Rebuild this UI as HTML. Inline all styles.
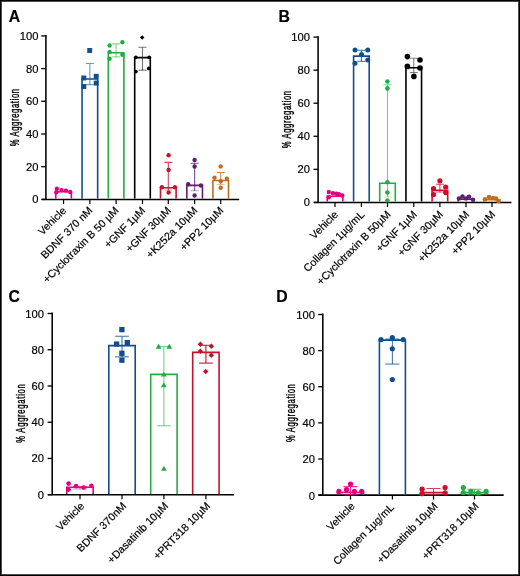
<!DOCTYPE html>
<html><head><meta charset="utf-8"><style>
html,body{margin:0;padding:0;background:#fff;}
svg{display:block;will-change:transform;}
text{font-family:"Liberation Sans", sans-serif;fill:#000;stroke:#000;stroke-width:0.18px;}
</style></head><body>
<svg width="520" height="576" viewBox="0 0 520 576">
<rect x="0" y="0" width="520" height="576" fill="#fff"/>
<path d="M45.90 35.00V199.40" stroke="#000" stroke-width="1.55" fill="none"/>
<path d="M41.80 199.40H239.20" stroke="#000" stroke-width="1.55" fill="none"/>
<path d="M55.75 198.62V191.80H71.35V198.62" fill="none" stroke="#e4007f" stroke-width="1.6"/>
<circle cx="56.90" cy="188.70" r="2.20" fill="#e4007f"/>
<circle cx="61.50" cy="190.10" r="2.20" fill="#e4007f"/>
<circle cx="65.90" cy="190.60" r="2.20" fill="#e4007f"/>
<circle cx="70.20" cy="192.00" r="2.20" fill="#e4007f"/>
<circle cx="56.30" cy="192.20" r="2.20" fill="#e4007f"/>
<path d="M82.05 198.62V79.00H97.65V198.62" fill="none" stroke="#114f8c" stroke-width="1.6"/>
<path d="M89.85 63.50V84.60M85.85 63.50H93.85" fill="none" stroke="#114f8c" stroke-opacity="0.6" stroke-width="1.1"/>
<path d="M85.85 84.60H93.85" fill="none" stroke="#114f8c" stroke-opacity="0.60" stroke-width="1.1"/>
<rect x="87.23" y="48.03" width="4.94" height="4.94" fill="#114f8c"/>
<rect x="81.33" y="75.53" width="4.94" height="4.94" fill="#114f8c"/>
<rect x="93.73" y="73.83" width="4.94" height="4.94" fill="#114f8c"/>
<rect x="93.73" y="80.63" width="4.94" height="4.94" fill="#114f8c"/>
<rect x="81.33" y="84.03" width="4.94" height="4.94" fill="#114f8c"/>
<path d="M108.30 198.62V52.75H123.90V198.62" fill="none" stroke="#25ab44" stroke-width="1.6"/>
<path d="M116.10 43.90V56.90M112.10 43.90H120.10" fill="none" stroke="#25ab44" stroke-opacity="0.55" stroke-width="1.1"/>
<path d="M112.10 56.90H120.10" fill="none" stroke="#25ab44" stroke-opacity="0.55" stroke-width="1.1"/>
<circle cx="109.60" cy="45.50" r="2.20" fill="#25ab44"/>
<circle cx="122.40" cy="42.30" r="2.20" fill="#25ab44"/>
<circle cx="109.60" cy="51.90" r="2.20" fill="#25ab44"/>
<circle cx="122.40" cy="54.70" r="2.20" fill="#25ab44"/>
<circle cx="109.60" cy="58.80" r="2.20" fill="#25ab44"/>
<path d="M134.70 198.62V57.60H150.30V198.62" fill="none" stroke="#000000" stroke-width="1.6"/>
<path d="M142.50 47.20V70.20M138.50 47.20H146.50" fill="none" stroke="#000000" stroke-opacity="0.55" stroke-width="1.1"/>
<path d="M138.50 70.20H146.50" fill="none" stroke="#000000" stroke-opacity="0.55" stroke-width="1.1"/>
<path d="M142.20 35.35L144.45 37.60L142.20 39.85L139.95 37.60Z" fill="#000000"/>
<circle cx="135.80" cy="57.30" r="1.90" fill="#000000"/>
<circle cx="149.20" cy="57.30" r="1.90" fill="#000000"/>
<circle cx="148.80" cy="68.40" r="1.90" fill="#000000"/>
<circle cx="135.90" cy="71.60" r="1.90" fill="#000000"/>
<path d="M160.50 198.62V187.70H176.10V198.62" fill="none" stroke="#c8102e" stroke-width="1.6"/>
<path d="M168.30 162.40V190.00M164.30 162.40H172.30" fill="none" stroke="#c8102e" stroke-opacity="0.8" stroke-width="1.1"/>
<path d="M164.30 190.00H172.30" fill="none" stroke="#c8102e" stroke-opacity="0.40" stroke-width="1.1"/>
<circle cx="168.60" cy="155.20" r="2.20" fill="#c8102e"/>
<circle cx="168.60" cy="169.90" r="2.20" fill="#c8102e"/>
<circle cx="161.90" cy="187.30" r="2.20" fill="#c8102e"/>
<circle cx="174.90" cy="187.30" r="2.20" fill="#c8102e"/>
<circle cx="168.60" cy="192.50" r="2.20" fill="#c8102e"/>
<path d="M186.85 198.62V185.40H202.45V198.62" fill="none" stroke="#5e1f73" stroke-width="1.6"/>
<path d="M194.65 163.20V190.70M190.65 163.20H198.65" fill="none" stroke="#5e1f73" stroke-opacity="0.8" stroke-width="1.1"/>
<path d="M190.65 190.70H198.65" fill="none" stroke="#5e1f73" stroke-opacity="0.40" stroke-width="1.1"/>
<circle cx="194.60" cy="160.00" r="2.20" fill="#5e1f73"/>
<circle cx="194.60" cy="166.50" r="2.20" fill="#5e1f73"/>
<circle cx="188.20" cy="184.30" r="2.20" fill="#5e1f73"/>
<circle cx="200.90" cy="185.50" r="2.20" fill="#5e1f73"/>
<circle cx="194.60" cy="195.50" r="2.20" fill="#5e1f73"/>
<path d="M212.90 198.62V180.50H228.50V198.62" fill="none" stroke="#c26d1e" stroke-width="1.6"/>
<path d="M220.70 172.50V184.50M216.70 172.50H224.70" fill="none" stroke="#c26d1e" stroke-opacity="0.8" stroke-width="1.1"/>
<path d="M216.70 184.50H224.70" fill="none" stroke="#c26d1e" stroke-opacity="0.40" stroke-width="1.1"/>
<circle cx="220.70" cy="166.40" r="2.20" fill="#c26d1e"/>
<circle cx="214.50" cy="177.70" r="2.20" fill="#c26d1e"/>
<circle cx="226.90" cy="178.80" r="2.20" fill="#c26d1e"/>
<circle cx="220.70" cy="181.20" r="2.20" fill="#c26d1e"/>
<circle cx="220.70" cy="187.80" r="2.20" fill="#c26d1e"/>
<path d="M41.30 199.40H45.90" stroke="#000" stroke-width="1.32"/>
<text x="38.40" y="203.40" text-anchor="end" font-size="11.2">0</text>
<path d="M41.30 166.70H45.90" stroke="#000" stroke-width="1.32"/>
<text x="38.40" y="170.70" text-anchor="end" font-size="11.2">20</text>
<path d="M41.30 134.00H45.90" stroke="#000" stroke-width="1.32"/>
<text x="38.40" y="138.00" text-anchor="end" font-size="11.2">40</text>
<path d="M41.30 101.30H45.90" stroke="#000" stroke-width="1.32"/>
<text x="38.40" y="105.30" text-anchor="end" font-size="11.2">60</text>
<path d="M41.30 68.60H45.90" stroke="#000" stroke-width="1.32"/>
<text x="38.40" y="72.60" text-anchor="end" font-size="11.2">80</text>
<path d="M41.30 35.90H45.90" stroke="#000" stroke-width="1.32"/>
<text x="38.40" y="39.90" text-anchor="end" font-size="11.2">100</text>
<path d="M63.55 199.40V203.90" stroke="#000" stroke-width="1.2"/>
<path d="M89.85 199.40V203.90" stroke="#000" stroke-width="1.2"/>
<path d="M116.10 199.40V203.90" stroke="#000" stroke-width="1.2"/>
<path d="M142.50 199.40V203.90" stroke="#000" stroke-width="1.2"/>
<path d="M168.30 199.40V203.90" stroke="#000" stroke-width="1.2"/>
<path d="M194.65 199.40V203.90" stroke="#000" stroke-width="1.2"/>
<path d="M220.70 199.40V203.90" stroke="#000" stroke-width="1.2"/>
<text transform="translate(66.85 211.30) rotate(-45)" text-anchor="end" font-size="10.7">Vehicle</text>
<text transform="translate(93.15 211.30) rotate(-45)" text-anchor="end" font-size="10.7">BDNF 370 nM</text>
<text transform="translate(119.40 211.30) rotate(-45)" text-anchor="end" font-size="10.7">+Cyclotraxin B 50 µM</text>
<text transform="translate(145.80 211.30) rotate(-45)" text-anchor="end" font-size="10.7">+GNF 1µM</text>
<text transform="translate(171.60 211.30) rotate(-45)" text-anchor="end" font-size="10.7">+GNF 30µM</text>
<text transform="translate(197.95 211.30) rotate(-45)" text-anchor="end" font-size="10.7">+K252a 10µM</text>
<text transform="translate(224.00 211.30) rotate(-45)" text-anchor="end" font-size="10.7">+PP2 10µM</text>
<text transform="translate(18.90 117.60) rotate(-90) scale(0.64 1)" text-anchor="middle" font-size="12" textLength="89.84" lengthAdjust="spacing" style="stroke-width:0.4px">% Aggregation</text>
<text x="8.7" y="22.3" font-size="15.8" font-weight="bold">A</text>
<path d="M318.10 36.20V202.40" stroke="#000" stroke-width="1.55" fill="none"/>
<path d="M314.10 202.40H511.50" stroke="#000" stroke-width="1.55" fill="none"/>
<path d="M327.20 201.62V196.30H342.80V201.62" fill="none" stroke="#e4007f" stroke-width="1.6"/>
<circle cx="328.80" cy="192.00" r="2.20" fill="#e4007f"/>
<circle cx="333.00" cy="193.30" r="2.20" fill="#e4007f"/>
<circle cx="336.50" cy="193.80" r="2.20" fill="#e4007f"/>
<circle cx="339.00" cy="194.30" r="2.20" fill="#e4007f"/>
<circle cx="342.30" cy="195.50" r="2.20" fill="#e4007f"/>
<circle cx="328.80" cy="197.30" r="2.20" fill="#e4007f"/>
<path d="M353.60 201.62V56.10H369.20V201.62" fill="none" stroke="#114f8c" stroke-width="1.6"/>
<path d="M361.40 50.20V61.30M357.40 50.20H365.40" fill="none" stroke="#114f8c" stroke-opacity="0.8" stroke-width="1.1"/>
<path d="M357.40 61.30H365.40" fill="none" stroke="#114f8c" stroke-opacity="0.80" stroke-width="1.1"/>
<circle cx="355.00" cy="50.00" r="2.50" fill="#114f8c"/>
<circle cx="367.75" cy="50.00" r="2.50" fill="#114f8c"/>
<circle cx="361.50" cy="54.50" r="2.50" fill="#114f8c"/>
<circle cx="367.75" cy="60.00" r="2.50" fill="#114f8c"/>
<circle cx="355.00" cy="63.25" r="2.50" fill="#114f8c"/>
<path d="M379.70 201.62V183.30H395.30V201.62" fill="none" stroke="#25ab44" stroke-width="1.6"/>
<path d="M387.50 84.75V196.90M383.50 84.75H391.50" fill="none" stroke="#25ab44" stroke-opacity="0.6" stroke-width="1.1"/>
<path d="M383.50 196.90H391.50" fill="none" stroke="#25ab44" stroke-opacity="0.30" stroke-width="1.1"/>
<circle cx="387.40" cy="81.50" r="2.30" fill="#25ab44"/>
<circle cx="387.40" cy="88.40" r="2.30" fill="#25ab44"/>
<circle cx="387.40" cy="182.20" r="2.30" fill="#25ab44"/>
<circle cx="387.40" cy="192.50" r="2.30" fill="#25ab44"/>
<circle cx="387.40" cy="200.60" r="2.30" fill="#25ab44"/>
<path d="M405.95 201.62V67.80H421.55V201.62" fill="none" stroke="#000000" stroke-width="1.6"/>
<path d="M413.75 58.30V72.50M409.75 58.30H417.75" fill="none" stroke="#000000" stroke-opacity="0.5" stroke-width="1.1"/>
<path d="M409.75 72.50H417.75" fill="none" stroke="#000000" stroke-opacity="0.50" stroke-width="1.1"/>
<circle cx="407.40" cy="56.60" r="2.80" fill="#000000"/>
<circle cx="420.00" cy="60.00" r="2.80" fill="#000000"/>
<circle cx="407.40" cy="66.40" r="2.80" fill="#000000"/>
<circle cx="420.00" cy="68.00" r="2.80" fill="#000000"/>
<circle cx="413.90" cy="76.40" r="2.80" fill="#000000"/>
<path d="M432.10 201.62V190.40H447.70V201.62" fill="none" stroke="#c8102e" stroke-width="1.6"/>
<path d="M439.90 184.30V192.30M435.90 184.30H443.90" fill="none" stroke="#c8102e" stroke-opacity="0.8" stroke-width="1.1"/>
<path d="M435.90 192.30H443.90" fill="none" stroke="#c8102e" stroke-opacity="0.40" stroke-width="1.1"/>
<circle cx="439.90" cy="180.90" r="2.60" fill="#c8102e"/>
<circle cx="433.50" cy="188.70" r="2.60" fill="#c8102e"/>
<circle cx="433.50" cy="194.60" r="2.60" fill="#c8102e"/>
<circle cx="445.70" cy="187.00" r="2.60" fill="#c8102e"/>
<circle cx="445.70" cy="192.60" r="2.60" fill="#c8102e"/>
<path d="M458.20 201.62V199.30H473.80V201.62" fill="none" stroke="#5e1f73" stroke-width="1.6"/>
<circle cx="459.00" cy="198.50" r="2.30" fill="#5e1f73"/>
<circle cx="462.50" cy="196.50" r="2.30" fill="#5e1f73"/>
<circle cx="466.00" cy="198.50" r="2.30" fill="#5e1f73"/>
<circle cx="469.00" cy="196.80" r="2.30" fill="#5e1f73"/>
<circle cx="473.00" cy="199.80" r="2.30" fill="#5e1f73"/>
<path d="M484.20 201.62V199.80H499.80V201.62" fill="none" stroke="#c26d1e" stroke-width="1.6"/>
<circle cx="485.00" cy="199.20" r="2.30" fill="#c26d1e"/>
<circle cx="489.00" cy="197.00" r="2.30" fill="#c26d1e"/>
<circle cx="493.00" cy="198.00" r="2.30" fill="#c26d1e"/>
<circle cx="496.00" cy="198.50" r="2.30" fill="#c26d1e"/>
<circle cx="498.50" cy="201.00" r="2.30" fill="#c26d1e"/>
<path d="M313.50 202.40H318.10" stroke="#000" stroke-width="1.32"/>
<text x="309.90" y="206.40" text-anchor="end" font-size="11.2">0</text>
<path d="M313.50 169.34H318.10" stroke="#000" stroke-width="1.32"/>
<text x="309.90" y="173.34" text-anchor="end" font-size="11.2">20</text>
<path d="M313.50 136.28H318.10" stroke="#000" stroke-width="1.32"/>
<text x="309.90" y="140.28" text-anchor="end" font-size="11.2">40</text>
<path d="M313.50 103.22H318.10" stroke="#000" stroke-width="1.32"/>
<text x="309.90" y="107.22" text-anchor="end" font-size="11.2">60</text>
<path d="M313.50 70.16H318.10" stroke="#000" stroke-width="1.32"/>
<text x="309.90" y="74.16" text-anchor="end" font-size="11.2">80</text>
<path d="M313.50 37.10H318.10" stroke="#000" stroke-width="1.32"/>
<text x="309.90" y="41.10" text-anchor="end" font-size="11.2">100</text>
<path d="M335.00 202.40V206.90" stroke="#000" stroke-width="1.2"/>
<path d="M361.40 202.40V206.90" stroke="#000" stroke-width="1.2"/>
<path d="M387.50 202.40V206.90" stroke="#000" stroke-width="1.2"/>
<path d="M413.75 202.40V206.90" stroke="#000" stroke-width="1.2"/>
<path d="M439.90 202.40V206.90" stroke="#000" stroke-width="1.2"/>
<path d="M466.00 202.40V206.90" stroke="#000" stroke-width="1.2"/>
<path d="M492.00 202.40V206.90" stroke="#000" stroke-width="1.2"/>
<text transform="translate(338.70 215.30) rotate(-45)" text-anchor="end" font-size="10.7">Vehicle</text>
<text transform="translate(365.10 215.30) rotate(-45)" text-anchor="end" font-size="10.7">Collagen 1µg/mL</text>
<text transform="translate(391.20 215.30) rotate(-45)" text-anchor="end" font-size="10.7">+Cyclotraxin B 50µM</text>
<text transform="translate(417.45 215.30) rotate(-45)" text-anchor="end" font-size="10.7">+GNF 1µM</text>
<text transform="translate(443.60 215.30) rotate(-45)" text-anchor="end" font-size="10.7">+GNF 30µM</text>
<text transform="translate(469.70 215.30) rotate(-45)" text-anchor="end" font-size="10.7">+K252a 10µM</text>
<text transform="translate(495.70 215.30) rotate(-45)" text-anchor="end" font-size="10.7">+PP2 10µM</text>
<text transform="translate(291.20 119.60) rotate(-90) scale(0.64 1)" text-anchor="middle" font-size="12" textLength="89.84" lengthAdjust="spacing" style="stroke-width:0.4px">% Aggregation</text>
<text x="278.4" y="22.3" font-size="15.8" font-weight="bold">B</text>
<path d="M52.20 312.60V494.70" stroke="#000" stroke-width="1.55" fill="none"/>
<path d="M48.20 494.70H234.00" stroke="#000" stroke-width="1.55" fill="none"/>
<path d="M66.80 493.93V487.30H93.20V493.93" fill="none" stroke="#e4007f" stroke-width="1.6"/>
<path d="M80.00 486.50V489.00M73.15 486.50H86.85" fill="none" stroke="#e4007f" stroke-opacity="0.5" stroke-width="1.1"/>
<path d="M73.15 489.00H86.85" fill="none" stroke="#e4007f" stroke-opacity="0.50" stroke-width="1.1"/>
<circle cx="68.60" cy="483.60" r="2.30" fill="#e4007f"/>
<circle cx="68.60" cy="489.60" r="2.30" fill="#e4007f"/>
<circle cx="76.10" cy="486.10" r="2.30" fill="#e4007f"/>
<circle cx="83.60" cy="487.50" r="2.30" fill="#e4007f"/>
<circle cx="91.40" cy="485.80" r="2.30" fill="#e4007f"/>
<path d="M108.80 493.93V345.60H135.20V493.93" fill="none" stroke="#114f8c" stroke-width="1.6"/>
<path d="M122.00 336.25V356.90M115.15 336.25H128.85" fill="none" stroke="#114f8c" stroke-opacity="0.8" stroke-width="1.1"/>
<path d="M115.15 356.90H128.85" fill="none" stroke="#114f8c" stroke-opacity="0.80" stroke-width="1.1"/>
<rect x="119.24" y="326.94" width="5.32" height="5.32" fill="#114f8c"/>
<rect x="113.94" y="341.44" width="5.32" height="5.32" fill="#114f8c"/>
<rect x="124.64" y="339.94" width="5.32" height="5.32" fill="#114f8c"/>
<rect x="119.24" y="350.64" width="5.32" height="5.32" fill="#114f8c"/>
<rect x="119.24" y="357.54" width="5.32" height="5.32" fill="#114f8c"/>
<path d="M150.70 493.93V374.40H177.10V493.93" fill="none" stroke="#25ab44" stroke-width="1.6"/>
<path d="M163.90 346.50V425.80M157.05 346.50H170.75" fill="none" stroke="#25ab44" stroke-opacity="0.6" stroke-width="1.1"/>
<path d="M157.05 425.80H170.75" fill="none" stroke="#25ab44" stroke-opacity="0.60" stroke-width="1.1"/>
<path d="M158.60 343.77L161.47 348.68L155.73 348.68Z" fill="#25ab44"/>
<path d="M169.30 343.77L172.17 348.68L166.43 348.68Z" fill="#25ab44"/>
<path d="M163.80 371.67L166.67 376.58L160.93 376.58Z" fill="#25ab44"/>
<path d="M163.80 382.37L166.67 387.28L160.93 387.28Z" fill="#25ab44"/>
<path d="M163.90 465.77L166.77 470.68L161.03 470.68Z" fill="#25ab44"/>
<path d="M192.70 493.93V352.40H219.10V493.93" fill="none" stroke="#c8102e" stroke-width="1.6"/>
<path d="M205.90 345.30V363.10M199.05 345.30H212.75" fill="none" stroke="#c8102e" stroke-opacity="1.0" stroke-width="1.1"/>
<path d="M199.05 363.10H212.75" fill="none" stroke="#c8102e" stroke-opacity="1.00" stroke-width="1.1"/>
<path d="M200.40 341.45L203.15 344.20L200.40 346.95L197.65 344.20Z" fill="#c8102e"/>
<path d="M211.30 343.45L214.05 346.20L211.30 348.95L208.55 346.20Z" fill="#c8102e"/>
<path d="M200.40 348.55L203.15 351.30L200.40 354.05L197.65 351.30Z" fill="#c8102e"/>
<path d="M211.30 352.45L214.05 355.20L211.30 357.95L208.55 355.20Z" fill="#c8102e"/>
<path d="M205.70 368.75L208.45 371.50L205.70 374.25L202.95 371.50Z" fill="#c8102e"/>
<path d="M47.60 494.70H52.20" stroke="#000" stroke-width="1.32"/>
<text x="43.90" y="498.70" text-anchor="end" font-size="11.2">0</text>
<path d="M47.60 458.46H52.20" stroke="#000" stroke-width="1.32"/>
<text x="43.90" y="462.46" text-anchor="end" font-size="11.2">20</text>
<path d="M47.60 422.22H52.20" stroke="#000" stroke-width="1.32"/>
<text x="43.90" y="426.22" text-anchor="end" font-size="11.2">40</text>
<path d="M47.60 385.98H52.20" stroke="#000" stroke-width="1.32"/>
<text x="43.90" y="389.98" text-anchor="end" font-size="11.2">60</text>
<path d="M47.60 349.74H52.20" stroke="#000" stroke-width="1.32"/>
<text x="43.90" y="353.74" text-anchor="end" font-size="11.2">80</text>
<path d="M47.60 313.50H52.20" stroke="#000" stroke-width="1.32"/>
<text x="43.90" y="317.50" text-anchor="end" font-size="11.2">100</text>
<path d="M80.00 494.70V499.20" stroke="#000" stroke-width="1.2"/>
<path d="M122.00 494.70V499.20" stroke="#000" stroke-width="1.2"/>
<path d="M163.90 494.70V499.20" stroke="#000" stroke-width="1.2"/>
<path d="M205.90 494.70V499.20" stroke="#000" stroke-width="1.2"/>
<text transform="translate(84.90 506.80) rotate(-45)" text-anchor="end" font-size="10.7">Vehicle</text>
<text transform="translate(126.90 506.80) rotate(-45)" text-anchor="end" font-size="10.7">BDNF 370nM</text>
<text transform="translate(168.80 506.80) rotate(-45)" text-anchor="end" font-size="10.7">+Dasatinib 10µM</text>
<text transform="translate(210.80 506.80) rotate(-45)" text-anchor="end" font-size="10.7">+PRT318 10µM</text>
<text transform="translate(25.30 413.40) rotate(-90) scale(0.64 1)" text-anchor="middle" font-size="12" textLength="91.41" lengthAdjust="spacing" style="stroke-width:0.4px">% Aggregation</text>
<text x="8.5" y="302.1" font-size="15.8" font-weight="bold">C</text>
<path d="M322.80 313.60V495.10" stroke="#000" stroke-width="1.55" fill="none"/>
<path d="M318.50 495.10H503.70" stroke="#000" stroke-width="1.55" fill="none"/>
<path d="M337.50 494.33V492.50H363.50V494.33" fill="none" stroke="#e4007f" stroke-width="1.6"/>
<path d="M350.50 486.60V495.00M343.50 486.60H357.50" fill="none" stroke="#e4007f" stroke-opacity="0.8" stroke-width="1.1"/>
<path d="M343.50 495.00H357.50" fill="none" stroke="#e4007f" stroke-opacity="0.80" stroke-width="1.1"/>
<circle cx="338.90" cy="491.40" r="2.60" fill="#e4007f"/>
<circle cx="346.50" cy="489.70" r="2.60" fill="#e4007f"/>
<circle cx="350.50" cy="484.10" r="2.60" fill="#e4007f"/>
<circle cx="354.40" cy="491.40" r="2.60" fill="#e4007f"/>
<circle cx="361.70" cy="491.40" r="2.60" fill="#e4007f"/>
<path d="M379.40 494.33V340.10H405.40V494.33" fill="none" stroke="#114f8c" stroke-width="1.6"/>
<path d="M392.40 339.10V364.10M385.40 339.10H399.40" fill="none" stroke="#114f8c" stroke-opacity="0.75" stroke-width="1.1"/>
<path d="M385.40 364.10H399.40" fill="none" stroke="#114f8c" stroke-opacity="0.75" stroke-width="1.1"/>
<circle cx="381.00" cy="339.60" r="2.60" fill="#114f8c"/>
<circle cx="392.30" cy="337.70" r="2.60" fill="#114f8c"/>
<circle cx="403.20" cy="339.60" r="2.60" fill="#114f8c"/>
<circle cx="392.30" cy="348.75" r="2.60" fill="#114f8c"/>
<circle cx="392.30" cy="379.60" r="2.60" fill="#114f8c"/>
<path d="M420.50 494.33V492.60H446.50V494.33" fill="none" stroke="#c8102e" stroke-width="1.6"/>
<path d="M433.50 488.50V495.00M426.50 488.50H440.50" fill="none" stroke="#c8102e" stroke-opacity="0.8" stroke-width="1.1"/>
<path d="M426.50 495.00H440.50" fill="none" stroke="#c8102e" stroke-opacity="0.80" stroke-width="1.1"/>
<circle cx="422.10" cy="489.20" r="2.60" fill="#c8102e"/>
<circle cx="422.10" cy="493.70" r="2.60" fill="#c8102e"/>
<circle cx="445.10" cy="487.50" r="2.60" fill="#c8102e"/>
<circle cx="445.10" cy="492.80" r="2.60" fill="#c8102e"/>
<path d="M461.50 494.33V492.60H487.50V494.33" fill="none" stroke="#25ab44" stroke-width="1.6"/>
<path d="M474.50 489.20V495.00M467.50 489.20H481.50" fill="none" stroke="#25ab44" stroke-opacity="0.8" stroke-width="1.1"/>
<path d="M467.50 495.00H481.50" fill="none" stroke="#25ab44" stroke-opacity="0.80" stroke-width="1.1"/>
<circle cx="463.30" cy="487.50" r="2.60" fill="#25ab44"/>
<circle cx="463.30" cy="492.60" r="2.60" fill="#25ab44"/>
<circle cx="470.90" cy="491.40" r="2.60" fill="#25ab44"/>
<circle cx="478.30" cy="492.80" r="2.60" fill="#25ab44"/>
<circle cx="486.10" cy="491.40" r="2.60" fill="#25ab44"/>
<path d="M318.20 495.10H322.80" stroke="#000" stroke-width="1.32"/>
<text x="314.90" y="499.50" text-anchor="end" font-size="11.2">0</text>
<path d="M318.20 458.98H322.80" stroke="#000" stroke-width="1.32"/>
<text x="314.90" y="463.38" text-anchor="end" font-size="11.2">20</text>
<path d="M318.20 422.86H322.80" stroke="#000" stroke-width="1.32"/>
<text x="314.90" y="427.26" text-anchor="end" font-size="11.2">40</text>
<path d="M318.20 386.74H322.80" stroke="#000" stroke-width="1.32"/>
<text x="314.90" y="391.14" text-anchor="end" font-size="11.2">60</text>
<path d="M318.20 350.62H322.80" stroke="#000" stroke-width="1.32"/>
<text x="314.90" y="355.02" text-anchor="end" font-size="11.2">80</text>
<path d="M318.20 314.50H322.80" stroke="#000" stroke-width="1.32"/>
<text x="314.90" y="318.90" text-anchor="end" font-size="11.2">100</text>
<path d="M350.50 495.10V499.60" stroke="#000" stroke-width="1.2"/>
<path d="M392.40 495.10V499.60" stroke="#000" stroke-width="1.2"/>
<path d="M433.50 495.10V499.60" stroke="#000" stroke-width="1.2"/>
<path d="M474.50 495.10V499.60" stroke="#000" stroke-width="1.2"/>
<text transform="translate(355.40 506.90) rotate(-45)" text-anchor="end" font-size="10.7">Vehicle</text>
<text transform="translate(394.70 508.10) rotate(-45)" text-anchor="end" font-size="10.7">Collagen 1µg/mL</text>
<text transform="translate(438.40 506.90) rotate(-45)" text-anchor="end" font-size="10.7">+Dasatinib 10µM</text>
<text transform="translate(479.40 506.90) rotate(-45)" text-anchor="end" font-size="10.7">+PRT318 10µM</text>
<text transform="translate(295.20 413.10) rotate(-90) scale(0.64 1)" text-anchor="middle" font-size="12" textLength="90.62" lengthAdjust="spacing" style="stroke-width:0.4px">% Aggregation</text>
<text x="276.2" y="302.1" font-size="15.8" font-weight="bold">D</text>
<rect x="0.85" y="0.85" width="518.3" height="574.3" fill="none" stroke="#000" stroke-width="1.7"/>
</svg>
</body></html>
